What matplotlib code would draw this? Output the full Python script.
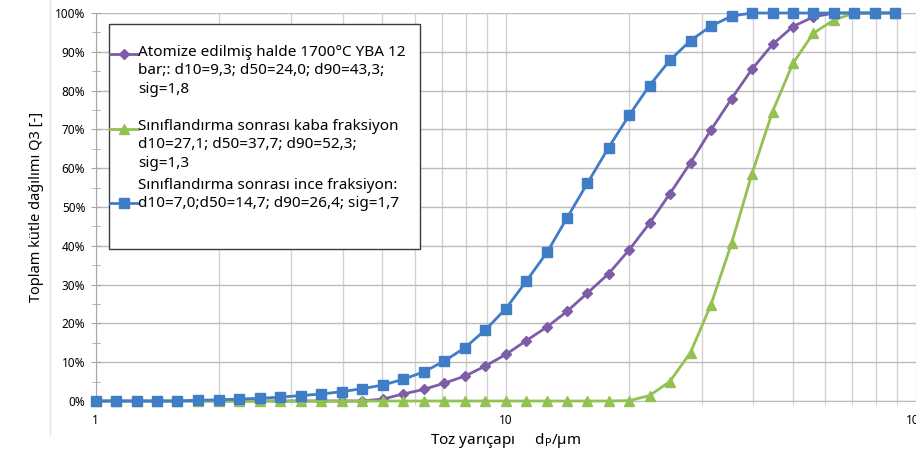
import matplotlib

matplotlib.use("Agg")
import matplotlib.pyplot as plt
from matplotlib.lines import Line2D
from matplotlib.patches import Rectangle
from matplotlib.ticker import FixedLocator, NullFormatter, PercentFormatter

plt.rcParams["font.family"] = ["Noto Sans", "DejaVu Sans"]

# particle size classes (um), log-spaced as in the source sheet
particle_size = [1.00, 1.12, 1.26, 1.41, 1.58, 1.78, 2.00, 2.24, 2.51, 2.82,
                 3.16, 3.55, 3.98, 4.47, 5.01, 5.62, 6.31, 7.08, 7.94, 8.91,
                 10.0, 11.2, 12.6, 14.1, 15.8, 17.8, 20.0, 22.4, 25.1, 28.2,
                 31.6, 35.5, 39.8, 44.7, 50.1, 56.2, 63.1, 70.8, 79.4, 89.1]

# cumulative mass distribution Q3 (%)
atomized = [0, 0, 0, 0, 0, 0, 0, 0, 0, 0,
            0, 0, 0, 0, 0.5, 1.8, 3.0, 4.6, 6.4, 9.0,
            12.0, 15.5, 19.1, 23.1, 27.8, 32.8, 39.0, 45.8, 53.4, 61.4,
            69.8, 77.9, 85.5, 91.9, 96.5, 99.0, 100, 100, 100, 100]
coarse = [0, 0, 0, 0, 0, 0, 0, 0, 0, 0,
          0, 0, 0, 0, 0, 0, 0, 0, 0, 0,
          0, 0, 0, 0, 0, 0, 0.1, 1.4, 5.0, 12.5,
          24.7, 40.6, 58.5, 74.6, 87.0, 94.8, 98.2, 100, 100, 100]
fine = [0, 0, 0, 0, 0, 0.2, 0.3, 0.5, 0.7, 1.0,
        1.4, 1.8, 2.4, 3.2, 4.1, 5.6, 7.5, 10.3, 13.7, 18.3,
        23.8, 30.8, 38.3, 47.2, 56.1, 65.3, 73.7, 81.3, 87.8, 92.9,
        96.6, 99.2, 100, 100, 100, 100, 100, 100, 100, 100]

legend_texts = [
    "Atomize edilmiş halde 1700°C YBA 12\nbar;: d10=9,3; d50=24,0; d90=43,3;\nsig=1,8",
    "Sınıflandırma sonrası kaba fraksiyon\nd10=27,1; d50=37,7; d90=52,3;\nsig=1,3",
    "Sınıflandırma sonrası ince fraksiyon:\nd10=7,0;d50=14,7; d90=26,4; sig=1,7",
]

PURPLE = "#7D5CA8"
GREEN = "#93C152"
BLUE = "#3F7DC6"
series = [
    (atomized, PURPLE, "D", 5),
    (coarse, GREEN, "^", 7),
    (fine, BLUE, "s", 7),
]

W, H = 916, 450
fig = plt.figure(figsize=(W / 100, H / 100), dpi=100)
ax = fig.add_axes([95.7 / W, 1 - 401 / H, (W - 95.7) / W, (401 - 13) / H])

for vals, col, mk, ms in series:
    ax.plot(particle_size, vals, color=col, lw=2.0, marker=mk, ms=ms,
            mec=col, mfc=col, clip_on=False, zorder=3)

ax.set_xscale("log")
ax.set_xlim(1, 100)
ax.set_ylim(0, 100)
ax.xaxis.set_major_locator(FixedLocator([1, 10, 100]))
ax.xaxis.set_major_formatter(plt.FuncFormatter(lambda v, p: f"{v:g}"))
ax.xaxis.set_minor_locator(FixedLocator([m * d for d in (1, 10) for m in range(2, 10)]))
ax.xaxis.set_minor_formatter(NullFormatter())
ax.yaxis.set_major_locator(FixedLocator(range(0, 101, 10)))
ax.yaxis.set_minor_locator(FixedLocator(range(5, 100, 10)))
ax.yaxis.set_major_formatter(PercentFormatter(100, decimals=0))

ax.grid(True, which="major", axis="y", color="#bcbcbc", lw=1.0)
ax.grid(True, which="both", axis="x", color="#d2d2d2", lw=1.0)
ax.tick_params(axis="x", which="both", direction="out", length=3, color="#c8c8c8",
               labelsize=8.5, pad=6)
ax.tick_params(axis="y", which="major", direction="inout", length=7, color="#a8a8a8",
               labelsize=8.5, pad=4)
ax.tick_params(axis="y", which="minor", direction="inout", length=6, color="#a8a8a8")

for s in ("top", "right"):
    ax.spines[s].set_visible(False)
ax.spines["left"].set_color("#a8a8a8")
ax.spines["bottom"].set_color("#bcbcbc")

ax.set_ylabel("Toplam kütle dağılımı Q3 [-]", fontsize=10.5, labelpad=8)
ax.set_xlabel("Toz yarıçapı     d$_\\mathrm{P}$/µm", fontsize=11, labelpad=3)

# Excel-style legend box, laid out in pixel coordinates
lax = fig.add_axes([0, 0, 1, 1], zorder=5)
lax.set_xlim(0, W)
lax.set_ylim(H, 0)
lax.axis("off")
lax.add_patch(Rectangle((109, 24), 311, 225, facecolor="white", edgecolor="#3c3c3c", lw=1.0))
lax.add_line(Line2D([50, 50], [0, 435], color="#e4e4e4", lw=1.0))

text_tops = [45, 119, 178]
marker_y = [53.5, 128.5, 202.5]
for (vals, col, mk, ms), txt, ty, my in zip(series, legend_texts, text_tops, marker_y):
    lax.add_line(Line2D([110, 138], [my, my], color=col, lw=2.0))
    lax.add_line(Line2D([124], [my], color=col, marker=mk, ms=ms, mec=col, mfc=col))
    lax.text(138, ty, txt, fontsize=11, va="top", ha="left", linespacing=1.3)

fig.savefig("out.png", dpi=100)
